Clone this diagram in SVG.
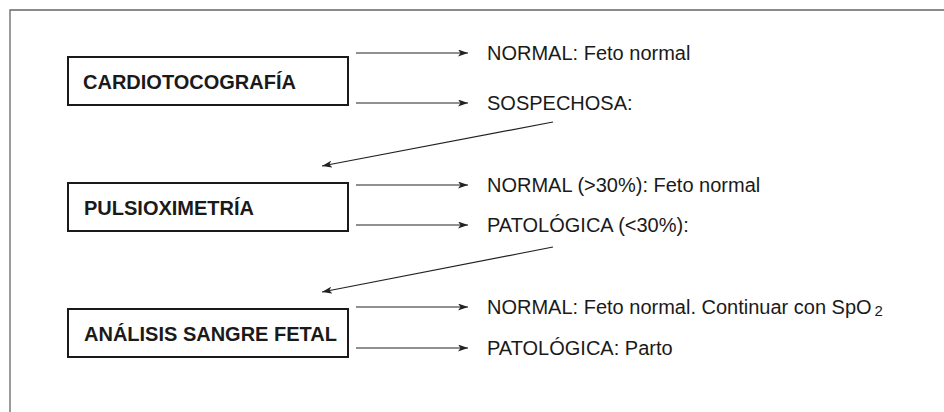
<svg xmlns="http://www.w3.org/2000/svg" width="944" height="412" viewBox="0 0 944 412">
<style>
.box{fill:#fff;stroke:#1a1a1a;stroke-width:2}
.bt{font-family:"Liberation Sans",Arial,sans-serif;font-size:20px;font-weight:bold;fill:#1a1a1a}
.lt{font-family:"Liberation Sans",Arial,sans-serif;font-size:20px;fill:#1a1a1a}
.c{stroke:#222;stroke-width:1.2;fill:none;marker-end:url(#ah)}
.frame{stroke:#666;stroke-width:1.3;fill:none}
</style>
<defs>
<marker id="ah" viewBox="0 0 10 7" refX="10" refY="3.5" markerWidth="10" markerHeight="7" markerUnits="userSpaceOnUse" orient="auto">
<path d="M0,0 L10,3.5 L0,7 L2.5,3.5 z" fill="#222"/>
</marker>
</defs>
<path class="frame" d="M944,10 H10 V412"/>
<g id="n1"><rect class="box" x="68" y="57" width="280" height="48"/><text class="bt" x="83" y="89">CARDIOTOCOGRAFÍA</text></g>
<g id="n2"><rect class="box" x="68" y="183" width="280" height="48"/><text class="bt" x="84" y="215">PULSIOXIMETRÍA</text></g>
<g id="n3"><rect class="box" x="68" y="309" width="280" height="48"/><text class="bt" x="84" y="341">ANÁLISIS SANGRE FETAL</text></g>
<g id="l1"><text class="lt" x="487" y="60">NORMAL: Feto normal</text></g>
<g id="l2"><text class="lt" x="487" y="110">SOSPECHOSA:</text></g>
<g id="l3"><text class="lt" x="487" y="192">NORMAL (&gt;30%): Feto normal</text></g>
<g id="l4"><text class="lt" x="487" y="232">PATOLÓGICA (&lt;30%):</text></g>
<g id="l5"><text class="lt" x="487" y="314">NORMAL: Feto normal. Continuar con SpO<tspan font-size="15" dx="3" dy="2">2</tspan></text></g>
<g id="l6"><text class="lt" x="487" y="355">PATOLÓGICA: Parto</text></g>
<g id="connectors">
<line class="c" x1="356" y1="53" x2="468" y2="53"/>
<line class="c" x1="356" y1="103" x2="468" y2="103"/>
<line class="c" x1="553" y1="122" x2="322" y2="166"/>
<line class="c" x1="356" y1="185" x2="468" y2="185"/>
<line class="c" x1="356" y1="225" x2="468" y2="225"/>
<line class="c" x1="553" y1="247" x2="322" y2="292"/>
<line class="c" x1="356" y1="307" x2="468" y2="307"/>
<line class="c" x1="356" y1="348" x2="468" y2="348"/>
</g>
</svg>
